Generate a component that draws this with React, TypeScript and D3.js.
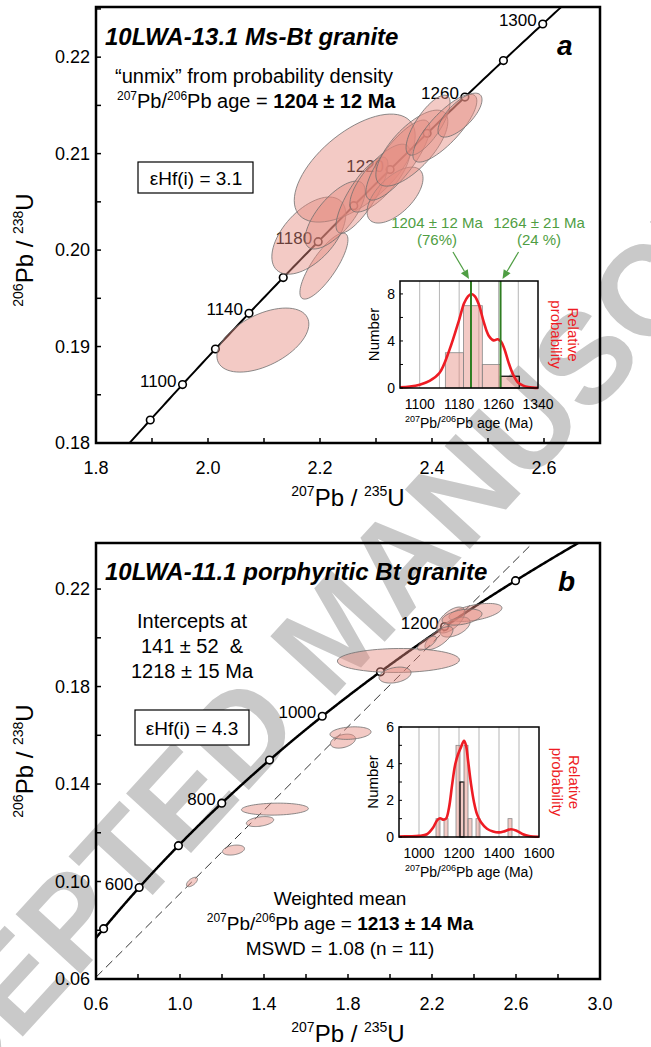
import React from 'react';
import * as d3 from 'd3';

const FONT = "'Liberation Sans', Arial, Helvetica, sans-serif";
const L238 = 1.55125e-4; // per Ma
const L235 = 9.8485e-4;
const conc = (t: number): [number, number] => [Math.expm1(L235 * t), Math.expm1(L238 * t)];

// ---------- Panel a data ----------
const aXLabels = ['1.8', '2.0', '2.2', '2.4', '2.6'];
const aYLabels = ['0.18', '0.19', '0.20', '0.21', '0.22'];
const aMarkerAges = [1080, 1100, 1120, 1140, 1160, 1180, 1200, 1220, 1240, 1260, 1280, 1300];
const aLabelAges = [1100, 1140, 1180, 1220, 1260, 1300];
// [cx (207/235), cy (206/238), half-width x, half-height y, correlation]
const aEllipses: number[][] = [
  [2.098, 0.19067, 0.0821, 0.00332, 0.5],
  [2.207, 0.19834, 0.0429, 0.00342, 0.8],
  [2.18, 0.2015, 0.066, 0.0040, 0.55],
  [2.262, 0.2085, 0.108, 0.0056, 0.6],
  [2.227, 0.20363, 0.0536, 0.00352, 0.7],
  [2.275, 0.2057, 0.0464, 0.00394, 0.8],
  [2.307, 0.20746, 0.0536, 0.00352, 0.75],
  [2.334, 0.2057, 0.05, 0.0029, 0.6],
  [2.339, 0.20933, 0.0571, 0.00415, 0.8],
  [2.364, 0.21057, 0.0643, 0.00394, 0.7],
  [2.393, 0.21295, 0.0393, 0.00311, 0.75],
  [2.423, 0.21264, 0.0571, 0.00352, 0.8],
  [2.45, 0.21399, 0.0393, 0.00228, 0.7],
];

// inset a
const aInsetGrid = [1100, 1140, 1180, 1220, 1260, 1300];
const aInsetXLabels = [1100, 1180, 1260, 1340];
const aInsetYLabels = [0, 4, 8];
const aBinStart = [1152, 1189, 1227, 1264];
const aBinEnd = [1189, 1227, 1264, 1302];
const aBinCount = [3, 7, 2, 1];
const aCurveAges = [1060, 1080, 1100, 1120, 1140, 1160, 1180, 1190, 1198, 1205, 1212, 1220, 1230, 1240, 1250, 1258, 1265, 1272, 1280, 1290, 1300, 1310, 1320, 1330, 1340];
const aCurveVals = [0.05, 0.12, 0.28, 0.6, 1.27, 3.2, 5.8, 7.2, 7.8, 8.0, 7.8, 7.1, 5.6, 4.45, 4.05, 4.15, 3.95, 3.3, 2.2, 1.1, 0.45, 0.2, 0.08, 0.03, 0.01];
const aGreenAges = [1204, 1264];
const aGreenText = ['1204 ± 12 Ma', '1264 ± 21 Ma'];
const aGreenPct = ['(76%)', '(24 %)'];

// ---------- Panel b data ----------
const bXLabels = ['0.6', '1.0', '1.4', '1.8', '2.2', '2.6', '3.0'];
const bYLabels = ['0.06', '0.10', '0.14', '0.18', '0.22'];
const bMarkerAges = [500, 600, 700, 800, 900, 1000, 1100, 1200, 1300];
const bLabelAges = [600, 800, 1000, 1200];
const bIntercepts = [141, 1218];
const bEllipses: number[][] = [
  [1.057, 0.0998, 0.0262, 0.00193, 0.6],
  [1.2548, 0.1129, 0.0524, 0.00205, 0.3],
  [1.381, 0.1246, 0.0652, 0.00205, 0.35],
  [1.452, 0.1297, 0.1595, 0.00246, 0.1],
  [1.776, 0.1576, 0.0595, 0.00287, 0.35],
  [1.812, 0.1609, 0.0976, 0.00258, 0.2],
  [2.040, 0.1907, 0.2905, 0.00492, 0.05],
  [2.024, 0.1847, 0.0762, 0.00328, 0.3],
  [2.407, 0.2104, 0.126, 0.0037, 0.5],
  [2.290, 0.2073, 0.0667, 0.00533, 0.6],
  [2.310, 0.2044, 0.0714, 0.0041, 0.5],
  [2.233, 0.1999, 0.0667, 0.00472, 0.7],
  [2.176, 0.1978, 0.0452, 0.00287, 0.7],
  [2.343, 0.2085, 0.095, 0.0033, 0.4],
];

// inset b
const bInsetGrid = [1000, 1100, 1200, 1300, 1400, 1500];
const bInsetXLabels = [1000, 1200, 1400, 1600];
const bInsetYLabels = [0, 2, 4, 6];
const bBinStart = [1085, 1125, 1185, 1205, 1225, 1245, 1285, 1445];
const bBinEnd = [1105, 1145, 1205, 1225, 1245, 1265, 1305, 1465];
const bBinCount = [1, 1, 5, 3, 5, 1, 1, 1];
const bCurveAges = [900, 950, 1000, 1040, 1070, 1090, 1105, 1120, 1135, 1150, 1165, 1180, 1195, 1210, 1225, 1235, 1245, 1260, 1275, 1290, 1310, 1340, 1370, 1400, 1430, 1460, 1490, 1520, 1550, 1600];
const bCurveVals = [0.03, 0.04, 0.06, 0.15, 0.5, 0.9, 1.02, 0.95, 1.0, 1.6, 2.8, 3.9, 4.5, 4.9, 5.25, 5.0, 4.2, 2.9, 1.9, 1.25, 0.8, 0.45, 0.3, 0.25, 0.32, 0.42, 0.33, 0.15, 0.05, 0.01];

const ELL_FILL = 'rgb(229,137,127)';
const GREEN_TXT = '#4f9e43';
const GREEN_LINE = '#2f7d22';
const RED = '#ee1c24';

function ellipsePath(e: number[], x: d3.ScaleLinear<number, number>, y: d3.ScaleLinear<number, number>) {
  const [cx, cy, sx, sy, rho] = e;
  const pts: [number, number][] = d3.range(0, 73).map((k) => {
    const th = (2 * Math.PI * k) / 72;
    return [x(cx + sx * Math.cos(th)), y(cy + sy * (rho * Math.cos(th) + Math.sqrt(1 - rho * rho) * Math.sin(th)))];
  });
  return d3.line().curve(d3.curveLinearClosed)(pts) || '';
}

function Sup({ base, sup, supSize }: { base: string; sup: string; supSize: number }) {
  return null;
}

type PanelProps = {
  id: string;
  left: number; right: number; top: number; bottom: number;
  xDomain: [number, number]; yDomain: [number, number];
  xTickCount: number; yTickCount: number;
  xLabels: string[]; yLabels: string[];
  markers: number[]; labels: number[];
  tRange: [number, number];
  lineWidth: number;
  ellipses: number[][];
  intercepts?: number[];
  yTitleY: number;
};

function Panel(p: PanelProps) {
  const x = d3.scaleLinear().domain(p.xDomain).range([p.left, p.right]);
  const y = d3.scaleLinear().domain(p.yDomain).range([p.bottom, p.top]);
  const xt = x.ticks(p.xTickCount);
  const yt = y.ticks(p.yTickCount);
  const ages = d3.range(p.tRange[0], p.tRange[1] + 1, 2);
  const line = d3.line<number>().x((t) => x(conc(t)[0])).y((t) => y(conc(t)[1]));
  let disc: string | null = null;
  if (p.intercepts) {
    const [x1, y1] = conc(p.intercepts[0]);
    const [x2, y2] = conc(p.intercepts[1]);
    const s = (y2 - y1) / (x2 - x1);
    const xs = [p.xDomain[0], p.xDomain[1]];
    disc = d3.line<number>().x((v) => x(v)).y((v) => y(y1 + s * (v - x1)))(xs);
  }
  const cx = (p.left + p.right) / 2;
  return (
    <g>
      <defs>
        <clipPath id={'clip' + p.id}>
          <rect x={p.left} y={p.top} width={p.right - p.left} height={p.bottom - p.top} />
        </clipPath>
      </defs>
      <g clipPath={`url(#clip${p.id})`}>
        {disc && <path d={disc} fill="none" stroke="#000" strokeWidth={0.8} strokeDasharray="9,5" />}
        <path d={line(ages) || ''} fill="none" stroke="#000" strokeWidth={p.lineWidth} />
        {p.markers.map((t) => (
          <circle key={t} cx={x(conc(t)[0])} cy={y(conc(t)[1])} r={3.8} fill="#fff" stroke="#000" strokeWidth={1.6} />
        ))}
        {p.labels.map((t) => (
          <text key={t} x={x(conc(t)[0]) - 6} y={y(conc(t)[1]) + 2} fontSize={17} textAnchor="end">{t}</text>
        ))}
        {p.ellipses.map((e, i) => (
          <path key={i} d={ellipsePath(e, x, y)} fill={ELL_FILL} fillOpacity={0.45} stroke="#6e6e6e" strokeWidth={0.8} />
        ))}
      </g>
      {/* ticks */}
      {xt.map((v, i) => (
        <line key={'xt' + i} x1={x(v)} x2={x(v)} y1={p.bottom} y2={p.bottom - 5} stroke="#000" strokeWidth={1.5} />
      ))}
      {yt.map((v, i) => (
        <line key={'yt' + i} x1={p.left} x2={p.left + 5} y1={y(v)} y2={y(v)} stroke="#000" strokeWidth={1.5} />
      ))}
      {p.xLabels.map((s) => (
        <text key={'xl' + s} x={x(parseFloat(s))} y={p.bottom + 31} fontSize={18} textAnchor="middle">{s}</text>
      ))}
      {p.yLabels.map((s) => (
        <text key={'yl' + s} x={p.left - 6} y={y(parseFloat(s)) + 6} fontSize={18} textAnchor="end">{s}</text>
      ))}
      <rect x={p.left} y={p.top} width={p.right - p.left} height={p.bottom - p.top} fill="none" stroke="#000" strokeWidth={2.5} />
      {/* x title */}
      <text x={cx} y={p.bottom + 63} fontSize={24} textAnchor="middle">
        <tspan fontSize={14} dy={-10}>207</tspan>
        <tspan dy={10}>Pb / </tspan>
        <tspan fontSize={14} dy={-10}>235</tspan>
        <tspan dy={10}>U</tspan>
      </text>
      {/* y title */}
      <text transform={`translate(33,${p.yTitleY}) rotate(-90)`} fontSize={24} textAnchor="middle">
        <tspan fontSize={14} dy={-10}>206</tspan>
        <tspan dy={10}>Pb / </tspan>
        <tspan fontSize={14} dy={-10}>238</tspan>
        <tspan dy={10}>U</tspan>
      </text>
    </g>
  );
}

type InsetProps = {
  left: number; right: number; top: number; bottom: number;
  xDomain: [number, number]; yDomain: [number, number];
  grid: number[]; xLabels: number[]; yLabels: number[]; yMinorStep: number;
  binStart: number[]; binEnd: number[]; binCount: number[]; boldBin: number;
  curveAges: number[]; curveVals: number[];
  greens?: number[];
};

function Inset(p: InsetProps) {
  const x = d3.scaleLinear().domain(p.xDomain).range([p.left, p.right]);
  const y = d3.scaleLinear().domain(p.yDomain).range([p.bottom, p.top]);
  const pts: [number, number][] = p.curveAges.map((a, i) => [x(a), y(p.curveVals[i])]);
  const curve = d3.line().curve(d3.curveCatmullRom.alpha(0.5))(pts) || '';
  const yMinor = d3.range(p.yDomain[0], p.yDomain[1] + 0.001, p.yMinorStep);
  const cy = (p.top + p.bottom) / 2;
  return (
    <g>
      {p.grid.map((g) => (
        <line key={'g' + g} x1={x(g)} x2={x(g)} y1={p.top} y2={p.bottom} stroke="#b5b5b5" strokeWidth={1} />
      ))}
      {p.binStart.map((b, i) => (
        <rect key={'b' + i} x={x(b)} y={y(p.binCount[i])} width={x(p.binEnd[i]) - x(b)} height={p.bottom - y(p.binCount[i])}
          fill={ELL_FILL} fillOpacity={0.45} stroke={i === p.boldBin ? '#000' : '#888'} strokeWidth={i === p.boldBin ? 1.2 : 0.8} />
      ))}
      <path d={curve} fill="none" stroke={RED} strokeWidth={2.6} />
      {(p.greens || []).map((g) => (
        <line key={'gr' + g} x1={x(g)} x2={x(g)} y1={p.top} y2={p.bottom} stroke={GREEN_LINE} strokeWidth={2} />
      ))}
      {yMinor.map((v, i) => (
        <line key={'ym' + i} x1={p.left} x2={p.left + 3} y1={y(v)} y2={y(v)} stroke="#000" strokeWidth={1} />
      ))}
      <rect x={p.left} y={p.top} width={p.right - p.left} height={p.bottom - p.top} fill="none" stroke="#000" strokeWidth={1.5} />
      {p.yLabels.map((v) => (
        <text key={'yl' + v} x={p.left - 5} y={y(v) + 5} fontSize={14} textAnchor="end">{v}</text>
      ))}
      {p.xLabels.map((v) => (
        <text key={'xl' + v} x={x(v)} y={p.bottom + 21} fontSize={14} textAnchor="middle">{v}</text>
      ))}
      <text x={(p.left + p.right) / 2} y={p.bottom + 40} fontSize={14} textAnchor="middle">
        <tspan fontSize={9} dy={-6}>207</tspan>
        <tspan dy={6}>Pb/</tspan>
        <tspan fontSize={9} dy={-6}>206</tspan>
        <tspan dy={6}>Pb age (Ma)</tspan>
      </text>
      <text transform={`translate(${p.left - 21},${cy}) rotate(-90)`} fontSize={15} textAnchor="middle">Number</text>
      <text transform={`translate(${p.right + 30},${cy}) rotate(90)`} fontSize={15} textAnchor="middle" fill={RED}>
        <tspan x={0} y={0}>Relative</tspan>
        <tspan x={0} y={17}>probability</tspan>
      </text>
    </g>
  );
}

function GreenAnnot() {
  const x = d3.scaleLinear().domain([1060, 1340]).range([400, 538]);
  const top = 281;
  return (
    <g>
      {aGreenAges.map((a, i) => {
        const tipX = x(a) + (i === 0 ? -2 : 2);
        const tipY = top - 2;
        const tailX = tipX + (i === 0 ? -16 : 16);
        const tailY = tipY - 27;
        const ang = Math.atan2(tipY - tailY, tipX - tailX);
        const hl = 9, hw = 4;
        const bx = tipX - hl * Math.cos(ang), by = tipY - hl * Math.sin(ang);
        const p1 = [bx + hw * Math.sin(ang), by - hw * Math.cos(ang)];
        const p2 = [bx - hw * Math.sin(ang), by + hw * Math.cos(ang)];
        const tx = i === 0 ? 437 : 539;
        return (
          <g key={a}>
            <text x={tx} y={228} fontSize={15} fill={GREEN_TXT} textAnchor="middle">{aGreenText[i]}</text>
            <text x={tx} y={245} fontSize={15} fill={GREEN_TXT} textAnchor="middle">{aGreenPct[i]}</text>
            <line x1={tailX} y1={tailY} x2={bx} y2={by} stroke={GREEN_TXT} strokeWidth={1.2} />
            <polygon points={`${tipX},${tipY} ${p1[0]},${p1[1]} ${p2[0]},${p2[1]}`} fill={GREEN_TXT} />
          </g>
        );
      })}
    </g>
  );
}

export default function App() {
  return (
    <svg width={651} height={1047} style={{ position: 'absolute', left: 0, top: 0 }} fontFamily={FONT}>
      <rect width={651} height={1047} fill="#fff" />
      <text transform="translate(335,630) rotate(-47.5)" fontSize={128} fontWeight="bold" fill="#c9c9c9"
        textAnchor="middle" dominantBaseline="central">ACCEPTED MANUSCRIPT</text>

      <Panel id="a" left={96} right={600} top={7} bottom={443} xDomain={[1.8, 2.7]} yDomain={[0.18, 0.2252]}
        xTickCount={9} yTickCount={9} xLabels={aXLabels} yLabels={aYLabels} markers={aMarkerAges} labels={aLabelAges}
        tRange={[1000, 1400]} lineWidth={2} ellipses={aEllipses} yTitleY={250} />
      <Inset left={400} right={538} top={281} bottom={388} xDomain={[1060, 1340]} yDomain={[0, 9.1]}
        grid={aInsetGrid} xLabels={aInsetXLabels} yLabels={aInsetYLabels} yMinorStep={2}
        binStart={aBinStart} binEnd={aBinEnd} binCount={aBinCount} boldBin={3}
        curveAges={aCurveAges} curveVals={aCurveVals} greens={aGreenAges} />
      <GreenAnnot />
      <text x={105} y={45} fontSize={24} fontWeight="bold" fontStyle="italic">10LWA-13.1 Ms-Bt granite</text>
      <text x={557} y={55} fontSize={28} fontWeight="bold" fontStyle="italic">a</text>
      <text x={254} y={83} fontSize={20} textAnchor="middle">“unmix” from probability density</text>
      <text x={117} y={108} fontSize={20}>
        <tspan fontSize={12} dy={-8}>207</tspan>
        <tspan dy={8}>Pb/</tspan>
        <tspan fontSize={12} dy={-8}>206</tspan>
        <tspan dy={8}>Pb age = </tspan>
        <tspan fontWeight="bold">1204 ± 12 Ma</tspan>
      </text>
      <rect x={138} y={162} width={115} height={31} fill="#fff" stroke="#000" strokeWidth={1.2} />
      <text x={196} y={185} fontSize={19} textAnchor="middle">εHf(i) = 3.1</text>

      <Panel id="b" left={96} right={600} top={543} bottom={979} xDomain={[0.6, 3.0]} yDomain={[0.06, 0.2389]}
        xTickCount={12} yTickCount={9} xLabels={bXLabels} yLabels={bYLabels} markers={bMarkerAges} labels={bLabelAges}
        tRange={[300, 1500]} lineWidth={2.5} ellipses={bEllipses} intercepts={bIntercepts} yTitleY={761} />
      <Inset left={399} right={539} top={727} bottom={837} xDomain={[900, 1600]} yDomain={[0, 6]}
        grid={bInsetGrid} xLabels={bInsetXLabels} yLabels={bInsetYLabels} yMinorStep={1}
        binStart={bBinStart} binEnd={bBinEnd} binCount={bBinCount} boldBin={3}
        curveAges={bCurveAges} curveVals={bCurveVals} />
      <text x={105} y={580} fontSize={24} fontWeight="bold" fontStyle="italic">10LWA-11.1 porphyritic Bt granite</text>
      <text x={558} y={591} fontSize={28} fontWeight="bold" fontStyle="italic">b</text>
      <text x={192} y={628} fontSize={20} textAnchor="middle">Intercepts at</text>
      <text x={192} y={653} fontSize={20} textAnchor="middle" style={{ whiteSpace: 'pre' }}>141 ± 52  &amp;</text>
      <text x={192} y={678} fontSize={20} textAnchor="middle">1218 ± 15 Ma</text>
      <rect x={135} y={710} width={114} height={35} fill="#fff" stroke="#000" strokeWidth={1.2} />
      <text x={192} y={735} fontSize={19} textAnchor="middle">εHf(i) = 4.3</text>
      <text x={340} y={905} fontSize={19} textAnchor="middle">Weighted mean</text>
      <text x={340} y={930} fontSize={19} textAnchor="middle">
        <tspan fontSize={12} dy={-8}>207</tspan>
        <tspan dy={8}>Pb/</tspan>
        <tspan fontSize={12} dy={-8}>206</tspan>
        <tspan dy={8}>Pb age = </tspan>
        <tspan fontWeight="bold">1213 ± 14 Ma</tspan>
      </text>
      <text x={340} y={955} fontSize={19} textAnchor="middle">MSWD = 1.08 (n = 11)</text>
    </svg>
  );
}
